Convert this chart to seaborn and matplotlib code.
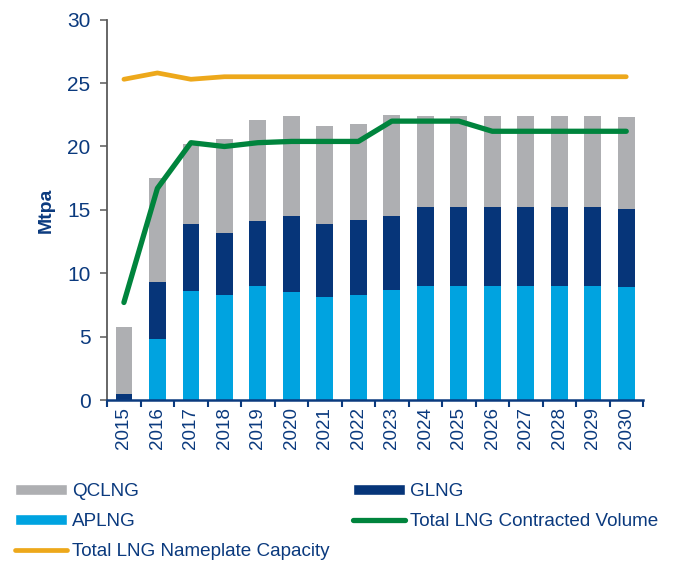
import numpy as np
import matplotlib
matplotlib.use("Agg")
import matplotlib.pyplot as plt
import seaborn as sns
from matplotlib.patches import Patch
from matplotlib.lines import Line2D
from matplotlib.ticker import MultipleLocator

# ── Data (Mtpa) ───────────────────────────────────────────
years = [str(y) for y in range(2015, 2031)]
aplng = [0.0, 4.8, 8.6, 8.3, 9.0, 8.5, 8.1, 8.3, 8.7, 9.0, 9.0, 9.0, 9.0, 9.0, 9.0, 8.9]
glng = [0.5, 4.5, 5.3, 4.9, 5.1, 6.0, 5.8, 5.9, 5.8, 6.2, 6.2, 6.2, 6.2, 6.2, 6.2, 6.2]
qclng = [5.3, 8.2, 6.3, 7.4, 8.0, 7.9, 7.7, 7.6, 8.0, 7.2, 7.2, 7.2, 7.2, 7.2, 7.2, 7.2]
contracted = [7.7, 16.7, 20.3, 20.0, 20.3, 20.4, 20.4, 20.4, 22.0, 22.0, 22.0, 21.2, 21.2, 21.2, 21.2, 21.2]
nameplate = [25.3, 25.8, 25.3, 25.5, 25.5, 25.5, 25.5, 25.5, 25.5, 25.5, 25.5, 25.5, 25.5, 25.5, 25.5, 25.5]

# ── Colours ───────────────────────────────────────────────
C_QC = "#AEAFB2"
C_GL = "#063579"
C_AP = "#00A3E0"
C_GREEN = "#00843D"
C_ORANGE = "#EDA81B"
C_TEXT = "#0B3A7E"
C_GREY_AX = "#5A5A5A"

sns.set_style("white")
plt.rcParams["font.family"] = ["Liberation Sans", "DejaVu Sans"]

fig = plt.figure(figsize=(6.74, 5.62), dpi=100)
ax = fig.add_axes([0.159, 0.288, 0.795, 0.677])

# stacked bars: draw cumulative totals, back to front
glng_top = np.array(aplng) + np.array(glng)
total = glng_top + np.array(qclng)
sns.barplot(x=years, y=total, color=C_QC, width=0.5, saturation=1, linewidth=0, ax=ax)
sns.barplot(x=years, y=glng_top, color=C_GL, width=0.5, saturation=1, linewidth=0, ax=ax)
sns.barplot(x=years, y=aplng, color=C_AP, width=0.5, saturation=1, linewidth=0, ax=ax)

xpos = np.arange(len(years))
sns.lineplot(x=xpos, y=nameplate, color=C_ORANGE, lw=3.4, ax=ax,
             solid_capstyle="round", solid_joinstyle="round")
sns.lineplot(x=xpos, y=contracted, color=C_GREEN, lw=3.8, ax=ax,
             solid_capstyle="round", solid_joinstyle="round")

ax.set_xlim(-0.5, len(years) - 0.5)
ax.set_ylim(0, 30)
ax.yaxis.set_major_locator(MultipleLocator(5))

for s in ["top", "right"]:
    ax.spines[s].set_visible(False)
ax.spines["left"].set_color(C_GREY_AX)
ax.spines["left"].set_linewidth(1.3)
ax.spines["bottom"].set_color(C_TEXT)
ax.spines["bottom"].set_linewidth(1.8)

ax.tick_params(axis="y", direction="out", length=5, width=1.1, color=C_GREY_AX,
               labelcolor=C_TEXT, labelsize=15, pad=7, left=True)
ax.tick_params(axis="x", which="major", length=0, labelcolor=C_TEXT, labelsize=13.5,
               labelrotation=90, pad=5, bottom=True)
ax.set_xticks(np.arange(-0.5, len(years), 1.0), minor=True)
ax.tick_params(axis="x", which="minor", direction="out", length=5, width=1.5,
               color=C_TEXT, bottom=True)

ax.set_xlabel("")
ax.set_ylabel("Mtpa", color=C_TEXT, fontsize=14, fontweight="bold", labelpad=9)

handles = [
    Patch(facecolor=C_QC, label="QCLNG"),
    Patch(facecolor=C_AP, label="APLNG"),
    Line2D([0], [0], color=C_ORANGE, lw=3.4, solid_capstyle="round",
           label="Total LNG Nameplate Capacity"),
    Patch(facecolor=C_GL, label="GLNG"),
    Line2D([0], [0], color=C_GREEN, lw=3.8, solid_capstyle="round",
           label="Total LNG Contracted Volume"),
]
leg = fig.legend(handles=handles, loc="upper left", bbox_to_anchor=(0.022, 0.14),
                 ncol=2, frameon=False, fontsize=13.6, handlelength=2.75,
                 handleheight=0.5, handletextpad=0.27, columnspacing=1.26,
                 labelspacing=0.68, borderpad=0, borderaxespad=0)
for t in leg.get_texts():
    t.set_color(C_TEXT)

fig.savefig("out.png", dpi=100)
